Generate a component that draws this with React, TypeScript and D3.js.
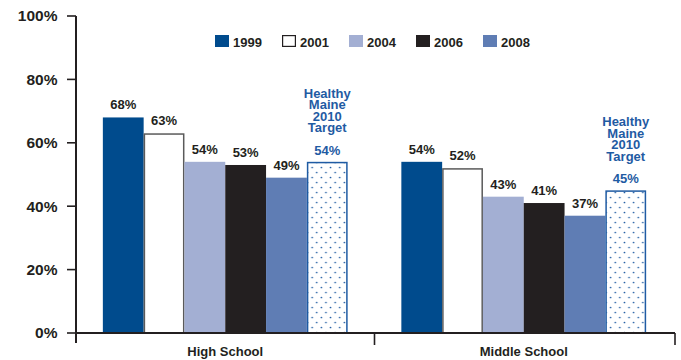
import React from "react";
import * as d3 from "d3";

const groups = ["High School", "Middle School"];
const seriesNames = ["1999", "2001", "2004", "2006", "2008"];
const highSchool = [68, 63, 54, 53, 49];
const middleSchool = [54, 52, 43, 41, 37];
const targets = [54, 45];
const yTicks = [0, 20, 40, 60, 80, 100];
const targetLines = ["Healthy", "Maine", "2010", "Target"];

const seriesFill = ["#004b8d", "#ffffff", "#a3afd3", "#231f20", "#5f7db4"];
const seriesStroke = ["#004b8d", "#5a5a5a", "#a3afd3", "#231f20", "#5f7db4"];
const BLUE = "#1f5ba3";
const INK = "#231f20";
const FONT = "'Liberation Sans', Arial, Helvetica, sans-serif";

export default function App() {
  const W = 681, H = 360;
  const x0 = 76, x1 = 673;
  const yTop = 16, yBot = 333;
  const y = d3.scaleLinear().domain([0, 100]).range([yBot, yTop]);
  const xg = d3.scaleBand().domain(groups).range([x0, x1]).paddingInner(0).paddingOuter(0);
  const keys = [...seriesNames, "target"];
  const bw = 40.8;
  const xs = d3.scaleBand().domain(keys).range([0, bw * keys.length]);
  const groupVals = [highSchool, middleSchool];

  return (
    <svg width={W} height={H} style={{ position: "absolute", left: 0, top: 0, display: "block", background: "#fff" }} fontFamily={FONT}>
      <defs>
        <pattern id="dots" width={9.2} height={10} patternUnits="userSpaceOnUse" x={0} y={0}>
          <rect width={9.2} height={10} fill="#fff" />
          <circle cx={2.3} cy={2.5} r={0.85} fill={BLUE} />
          <circle cx={6.9} cy={7.5} r={0.85} fill={BLUE} />
        </pattern>
      </defs>

      {/* y axis ticks & labels */}
      {yTicks.map((t) => (
        <g key={t}>
          <line x1={x0 - 9} x2={x0} y1={y(t)} y2={y(t)} stroke={INK} strokeWidth={1.6} />
          <text x={57.5} y={y(t) + 5.4} textAnchor="end" fontSize={15.5} fontWeight="bold" fill={INK}>
            {t}%
          </text>
        </g>
      ))}

      {/* bars */}
      {groups.map((g, gi) => {
        const start = (xg(g) as number) + (xg.bandwidth() - bw * keys.length) / 2;
        const vals = groupVals[gi];
        return (
          <g key={g} transform={`translate(${start},0)`}>
            {vals.map((v, i) => {
              const bx = xs(seriesNames[i]) as number;
              const isWhite = i === 1;
              return (
                <g key={i}>
                  <rect
                    x={isWhite ? bx + 0.75 : bx}
                    y={isWhite ? y(v) + 0.75 : y(v)}
                    width={isWhite ? bw - 1.5 : bw}
                    height={isWhite ? yBot - y(v) - 0.75 : yBot - y(v)}
                    fill={seriesFill[i]}
                    stroke={isWhite ? seriesStroke[i] : "none"}
                    strokeWidth={1.5}
                  />
                  <text x={bx + bw / 2} y={y(v) - 8} textAnchor="middle" fontSize={13} fontWeight="bold" fill={INK}>
                    {v}%
                  </text>
                </g>
              );
            })}
            {(() => {
              const bx = xs("target") as number;
              const v = targets[gi];
              const cx = bx + bw / 2;
              const firstY = y(v) - 29.5 - (targetLines.length - 1) * 11.6;
              return (
                <g>
                  <rect x={bx + 0.75} y={y(v) + 0.75} width={bw - 1.5} height={yBot - y(v) - 0.75} fill="url(#dots)" stroke={BLUE} strokeWidth={1.5} />
                  <text textAnchor="middle" fontSize={13} fontWeight="bold" fill={BLUE}>
                    {targetLines.map((ln, li) => (
                      <tspan key={ln} x={cx} y={firstY + li * 11.6}>
                        {ln}
                      </tspan>
                    ))}
                    <tspan x={cx} y={y(v) - 7}>
                      {v}%
                    </tspan>
                  </text>
                </g>
              );
            })()}
          </g>
        );
      })}

      {/* axes */}
      <line x1={x0} x2={x0} y1={yTop} y2={yBot + 10} stroke={INK} strokeWidth={2} />
      <line x1={x0} x2={x1 + 2} y1={yBot} y2={yBot} stroke={INK} strokeWidth={2} />
      {[xg(groups[1]) as number, x1 + 2].map((tx, i) => (
        <line key={i} x1={tx} x2={tx} y1={yBot} y2={yBot + 12} stroke={INK} strokeWidth={1.6} />
      ))}
      {groups.map((g) => (
        <text key={g} x={(xg(g) as number) + xg.bandwidth() / 2} y={356} textAnchor="middle" fontSize={13} fontWeight="bold" fill={INK}>
          {g}
        </text>
      ))}

      {/* legend */}
      {seriesNames.map((s, i) => {
        const lx = 215 + i * 67;
        const isWhite = i === 1;
        return (
          <g key={s}>
            <rect
              x={isWhite ? lx + 0.6 : lx}
              y={isWhite ? 35.6 : 35}
              width={isWhite ? 12.8 : 14}
              height={isWhite ? 10.8 : 12}
              fill={seriesFill[i]}
              stroke={isWhite ? INK : "none"}
              strokeWidth={1.2}
            />
            <text x={lx + 18} y={46.5} fontSize={13} fontWeight="bold" fill={INK}>
              {s}
            </text>
          </g>
        );
      })}
    </svg>
  );
}
